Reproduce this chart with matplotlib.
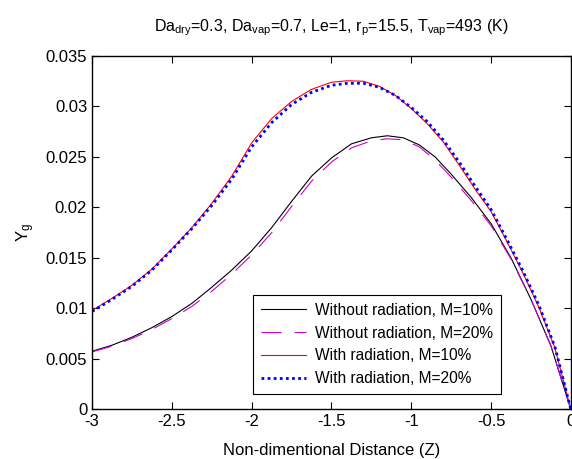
import numpy as np
import matplotlib
matplotlib.use("Agg")
import matplotlib.pyplot as plt

plt.rcParams['font.family'] = ['Liberation Sans', 'DejaVu Sans']
plt.rcParams['mathtext.default'] = 'regular'
plt.rcParams['axes.unicode_minus'] = False

z_low = [-3.0, -2.875, -2.75, -2.625, -2.5, -2.375, -2.25, -2.125, -2.0, -1.875, -1.75,
         -1.625, -1.5, -1.375, -1.25, -1.15, -1.05, -0.95, -0.85, -0.75, -0.625, -0.5,
         -0.375, -0.25, -0.125, 0.0]
y_wo10 = [0.00576, 0.00636, 0.00715, 0.00810, 0.0092, 0.0105, 0.0121, 0.0138, 0.0157,
          0.0180, 0.0206, 0.0231, 0.0249, 0.0263, 0.0269, 0.0271, 0.0269, 0.0262, 0.0250,
          0.0233, 0.0210, 0.0184, 0.0150, 0.0109, 0.0063, 0.0]
y_wo20 = [0.00570, 0.00626, 0.00702, 0.00792, 0.0090, 0.0102, 0.0117, 0.0134, 0.0153,
          0.0175, 0.0201, 0.0226, 0.0245, 0.0259, 0.0266, 0.0268, 0.0267, 0.0260, 0.0247,
          0.0230, 0.0207, 0.0182, 0.0149, 0.0109, 0.0063, 0.0]

z_up = [-3.0, -2.875, -2.75, -2.625, -2.5, -2.375, -2.25, -2.125, -2.0, -1.875, -1.75,
        -1.625, -1.5, -1.4, -1.3, -1.2, -1.1, -1.0, -0.9, -0.8, -0.7, -0.6, -0.5, -0.4,
        -0.3, -0.2, -0.1, 0.0]
y_w10 = [0.0098, 0.0110, 0.0123, 0.0139, 0.0159, 0.0180, 0.0204, 0.0231, 0.0264, 0.0288,
         0.0305, 0.0317, 0.0324, 0.03255, 0.0325, 0.0320, 0.0311, 0.0298, 0.0283, 0.0265,
         0.0242, 0.0218, 0.0196, 0.0166, 0.0135, 0.0101, 0.0061, 0.0]
y_w20 = [0.0097, 0.0109, 0.0122, 0.0138, 0.0158, 0.0179, 0.0202, 0.0228, 0.0260, 0.0284,
         0.0302, 0.0314, 0.0321, 0.0323, 0.0323, 0.0319, 0.0311, 0.0299, 0.0285, 0.0267,
         0.0245, 0.0221, 0.0198, 0.0168, 0.0137, 0.0103, 0.0062, 0.0]

xticks = [-3, -2.5, -2, -1.5, -1, -0.5, 0]
xtick_labels = ['-3', '-2.5', '-2', '-1.5', '-1', '-0.5', '0']
yticks = [0, 0.005, 0.01, 0.015, 0.02, 0.025, 0.03, 0.035]
ytick_labels = ['0', '0.005', '0.01', '0.015', '0.02', '0.025', '0.03', '0.035']

fig = plt.figure(figsize=(5.72, 4.59), dpi=100)
ax = fig.add_axes([0.161, 0.108, 0.837, 0.77])

ax.plot(z_low, y_wo10, color='black', lw=0.8, label='Without radiation, M=10%')
ax.plot(z_low, y_wo20, color='#cc00cc', lw=0.8, dashes=(18, 12), label='Without radiation, M=20%')
ax.plot(z_up, y_w10, color='red', lw=0.8, label='With radiation, M=10%')
ax.plot(z_up, y_w20, color='blue', lw=2.0, ls=(0, (1, 1.2)), label='With radiation, M=20%')

ax.set_xlim(-3, 0)
ax.set_ylim(0, 0.035)
ax.set_xticks(xticks)
ax.set_xticklabels(xtick_labels)
ax.set_yticks(yticks)
ax.set_yticklabels(ytick_labels)
ax.tick_params(direction='in', top=True, right=True, labelsize=12, length=5, width=0.8)
for s in ax.spines.values():
    s.set_linewidth(1.0)

ax.set_xlabel('Non-dimentional Distance (Z)', fontsize=12, labelpad=10)
ax.set_ylabel('Y$_g$', fontsize=12, labelpad=6)
ax.set_title('Da$_{dry}$=0.3, Da$_{vap}$=0.7, Le=1, r$_p$=15.5, T$_{vap}$=493 (K)',
             fontsize=11.5, pad=18)

leg = ax.legend(loc='lower right', bbox_to_anchor=(0.87, 0.022), fontsize=11.2,
                frameon=True, fancybox=False, edgecolor='black', framealpha=1,
                handlelength=2.9, handletextpad=0.6, borderpad=0.5, labelspacing=0.5)
leg.get_frame().set_linewidth(0.8)

fig.savefig('out.png', dpi=100)
